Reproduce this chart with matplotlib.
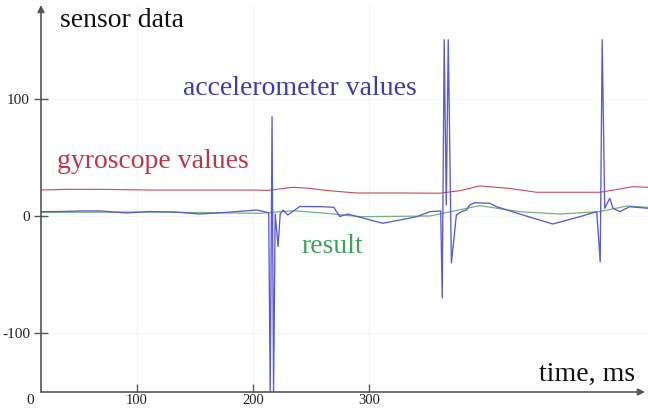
import matplotlib
matplotlib.use("Agg")
import matplotlib.pyplot as plt

plt.rcParams['font.family'] = ['Liberation Serif', 'DejaVu Serif']

# ---- data (time in ms, sensor values) ----
gyro_t = [17.0, 39.4, 69.6, 111, 154, 203, 213, 234, 246, 266, 289, 326.5, 361,
          378, 395.4, 421, 444.6, 473, 499, 512, 527.3, 540]
gyro_v = [22.1, 22.7, 22.7, 22.1, 22.1, 22.1, 21.8, 24.4, 23.8, 21.5, 19.6, 19.6, 19.4,
          21.5, 25.6, 23.5, 20.2, 20.2, 20.2, 22.3, 25.0, 24.4]

acc_t = [17.0, 33.4, 50.6, 67.8, 91.1, 110.9, 132.5, 154, 175.6, 192.8, 203.2, 211,
         213.5, 214.8, 216.4, 217.7, 219.1, 221.6, 223.4, 225.9, 229.9, 240.3, 260.1,
         269.6, 274.7, 281.6, 311.8, 341.1, 352.3, 361.8, 363.1, 364.8, 366.6, 368.3,
         371.0, 375.3, 379.7, 384, 386.8, 391.1, 404, 410, 432.5, 458.4, 481.6, 496.3,
         499.3, 501, 503.2, 507.5, 510.4, 516.1, 524.7, 540.3]
acc_v = [3.7, 3.8, 4.3, 4.3, 2.6, 3.8, 3.4, 1.7, 3.0, 4.3, 5.1, 3.4,
         2.6, -150, 84.5, -150, 1.7, -26, 1.7, 5.1, 0.9, 8.1, 7.9,
         7.4, -0.4, 1.7, -6.2, -0.6, 3.7, 4.3, -69.8, 150, 9.4, 150,
         -40, 0.9, 3.7, 5.1, 9.4, 11.3, 10.8, 7.9, 0.9, -6.8, -0.6, 3.7,
         -38.9, 150, 6.6, 15.1, 6.6, 3.7, 7.9, 6.6]

res_t = [17.0, 111, 205.8, 234.2, 263.5, 292, 352.3, 366, 395.4, 429.9, 464.4,
         498.9, 522.2, 540.3]
res_v = [3.1, 3.4, 2.3, 4.5, 2.3, -0.6, 0, 2.8, 8.8, 3.7, 1.7, 3.7, 8.5, 7.4]

xticks = [100, 200, 300]
yticks = [-100, 0, 100]
ytick_labels = ['-100', '0', '100']

# ---- figure ----
W, H = 648, 409
fig = plt.figure(figsize=(W / 100, H / 100), dpi=100)
ax = fig.add_axes([41 / W, (H - 392) / H, (648 - 41) / W, (392 - 5) / H])
ax.set_xlim(17.2, 540.5)
ax.set_ylim(-149.8, 179.6)

for s in ax.spines.values():
    s.set_visible(False)

ax.grid(True, color='#f6f6f9', linewidth=0.8)
ax.set_axisbelow(True)

ax.plot(gyro_t, gyro_v, color='#c94a58', linewidth=0.8)
ax.plot(res_t, res_v, color='#70b47a', linewidth=0.9)
ax.plot(acc_t, acc_v, color='#5a5ad2', linewidth=0.95)

# axes with arrows
axis_col = '#555555'
ax.annotate('', xy=(0, 1.0), xytext=(0, 0), xycoords='axes fraction',
            arrowprops=dict(arrowstyle='-|>', color=axis_col, lw=1.2,
                            mutation_scale=10, shrinkA=0, shrinkB=0),
            annotation_clip=False)
ax.annotate('', xy=(0.995, 0), xytext=(0, 0), xycoords='axes fraction',
            arrowprops=dict(arrowstyle='-|>', color=axis_col, lw=1.2,
                            mutation_scale=10, shrinkA=0, shrinkB=0),
            annotation_clip=False)

ax.set_xticks(xticks)
ax.set_xticklabels([str(v) for v in xticks])
ax.set_yticks(yticks)
ax.set_yticklabels(ytick_labels)
ax.tick_params(axis='x', direction='in', length=6, width=1, color=axis_col,
               pad=1.5, labelsize=10.5, labelcolor='#222222')
ax.tick_params(axis='y', direction='inout', length=10, width=1, color=axis_col,
               pad=3, labelsize=11, labelcolor='#222222')

ax.text(-0.018, -0.005, '0', transform=ax.transAxes, ha='center', va='top',
        fontsize=11, color='#222222')

# labels
def px(xp, yp):
    return ((xp - 21.3) / 1.16, (216 - yp) / 1.175)

x, y = px(60, 27)
ax.text(x, y, 'sensor data', fontsize=20, color='#111111', ha='left', va='baseline')
x, y = px(183, 95)
ax.text(x, y, 'accelerometer values', fontsize=20, color='#3c3cae', ha='left', va='baseline')
x, y = px(57, 168)
ax.text(x, y, 'gyroscope values', fontsize=20, color='#c0354c', ha='left', va='baseline')
x, y = px(302, 253)
ax.text(x, y, 'result', fontsize=20, color='#3fa35a', ha='left', va='baseline')
x, y = px(539, 381)
ax.text(x, y, 'time, ms', fontsize=20, color='#111111', ha='left', va='baseline')

fig.savefig('out.png', dpi=100)
